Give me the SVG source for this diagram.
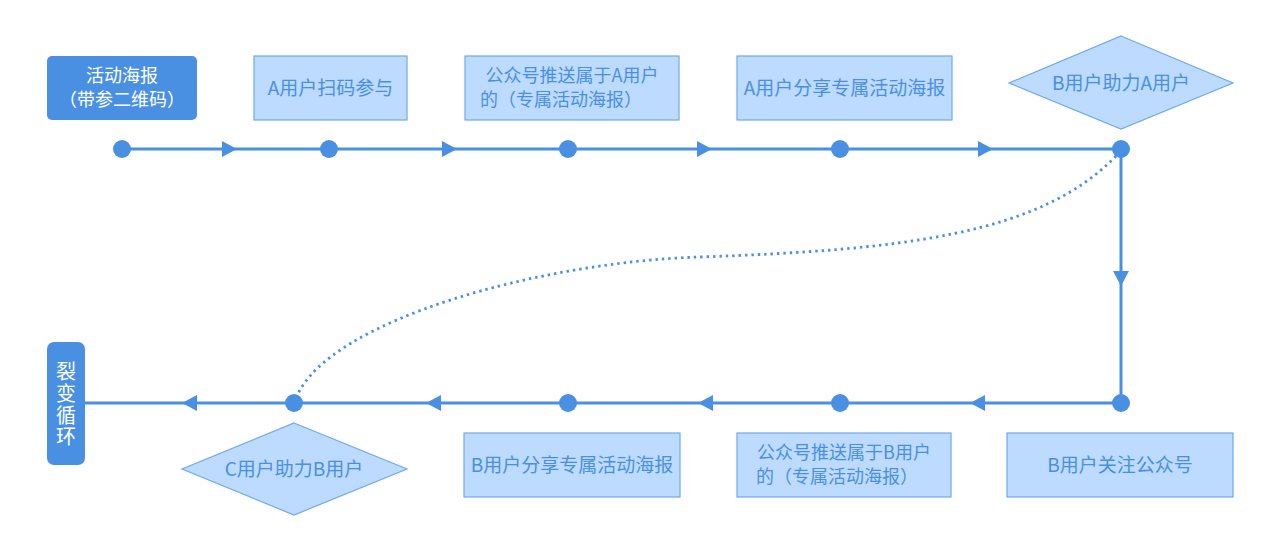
<svg xmlns="http://www.w3.org/2000/svg" width="1280" height="552" viewBox="0 0 1280 552">
<style>
.box{fill:#bcdbff;stroke:#6fa9ee;stroke-width:1.2}
.dark{fill:#4a90e2}
.t{font-family:"Microsoft YaHei","Noto Sans CJK SC","Noto Sans",sans-serif;font-size:19px;fill:#4a8fe3;text-anchor:middle}
.s{font-size:18px}
.w{fill:#ffffff}
.ln{stroke:#4a90e2;stroke-width:3;fill:none}
.dot{fill:#4a90e2}
.arr{fill:#4a90e2}
</style>
<rect width="1280" height="552" fill="#ffffff"/>
<g id="connectors">
<line class="ln" x1="122" y1="149" x2="1121" y2="149"/>
<line class="ln" x1="1121" y1="149" x2="1121" y2="403"/>
<line class="ln" x1="1121" y1="403" x2="85" y2="403"/>
<path d="M1116,156 C1040,235 900,250 700,257 C540,262 330,320 297,396" fill="none" stroke="#4a90e2" stroke-width="2.8" stroke-dasharray="2.4 4"/>
<polygon class="arr" points="222,141 237,149 222,157"/>
<polygon class="arr" points="442,141 457,149 442,157"/>
<polygon class="arr" points="697,141 712,149 697,157"/>
<polygon class="arr" points="978,141 993,149 978,157"/>
<polygon class="arr" points="1113,271 1129,271 1121,286"/>
<polygon class="arr" points="985,395 970,403 985,411"/>
<polygon class="arr" points="713,395 698,403 713,411"/>
<polygon class="arr" points="441,395 426,403 441,411"/>
<polygon class="arr" points="197,395 182,403 197,411"/>
<circle class="dot" cx="122" cy="149" r="9"/>
<circle class="dot" cx="329" cy="149" r="9"/>
<circle class="dot" cx="568" cy="149" r="9"/>
<circle class="dot" cx="840" cy="149" r="9"/>
<circle class="dot" cx="1121" cy="149" r="9"/>
<circle class="dot" cx="1121" cy="403" r="9"/>
<circle class="dot" cx="840" cy="403" r="9"/>
<circle class="dot" cx="568" cy="403" r="9"/>
<circle class="dot" cx="294" cy="403" r="9"/>
</g>
<g id="n1">
<rect class="dark" x="47" y="56" width="150" height="64" rx="5"/>
<text class="t s w" x="122" y="82">活动海报</text>
<text class="t s w" x="122" y="106">（带参二维码）</text>
</g>
<g id="n2">
<rect class="box" x="254" y="56" width="153" height="64"/>
<text class="t" x="330.5" y="94.5">A用户扫码参与</text>
</g>
<g id="n3">
<rect class="box" x="465" y="56" width="214" height="64"/>
<text class="t s" x="572" y="82">公众号推送属于A用户</text>
<text class="t s" x="561" y="106">的（专属活动海报）</text>
</g>
<g id="n4">
<rect class="box" x="737" y="56" width="215" height="64"/>
<text class="t" x="844.5" y="94.5">A用户分享专属活动海报</text>
</g>
<g id="n5">
<polygon class="box" points="1121,36 1233,83 1121,129 1009,83"/>
<text class="t" x="1121" y="89.5">B用户助力A用户</text>
</g>
<g id="n6">
<rect class="box" x="1007" y="433" width="226" height="64"/>
<text class="t" x="1120" y="471.5">B用户关注公众号</text>
</g>
<g id="n7">
<rect class="box" x="737" y="433" width="214" height="64"/>
<text class="t s" x="844" y="459">公众号推送属于B用户</text>
<text class="t s" x="837" y="483">的（专属活动海报）</text>
</g>
<g id="n8">
<rect class="box" x="464" y="433" width="216" height="64"/>
<text class="t" x="572" y="471.5">B用户分享专属活动海报</text>
</g>
<g id="n9">
<polygon class="box" points="294,423 407,469 294,515 182,469"/>
<text class="t" x="294" y="475.5">C用户助力B用户</text>
</g>
<g id="n10">
<rect class="dark" x="47" y="342" width="38" height="123" rx="7"/>
<text class="t w" x="66" y="405" writing-mode="vertical-rl" style="font-size:20px;letter-spacing:1.7px">裂变循环</text>
</g>
</svg>
